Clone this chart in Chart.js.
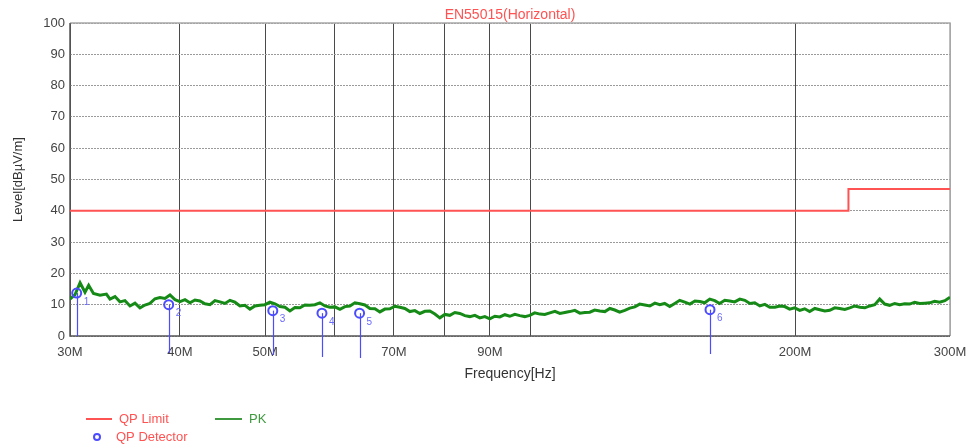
<!DOCTYPE html>
<html>
<head>
<meta charset="utf-8">
<script src="https://cdn.jsdelivr.net/npm/chart.js@4.4.1/dist/chart.umd.min.js"></script>
<style>
  html, body { margin: 0; padding: 0; background: #fff; }
  #wrap { width: 970px; height: 448px; }
</style>
</head>
<body>
<div id="wrap"><canvas id="emcChart" width="970" height="448"></canvas></div>
<script>
// chart text
const chartTitle = 'EN55015(Horizontal)';
const xTitle = 'Frequency[Hz]';
const yTitle = 'Level[dBµV/m]';

// x axis (MHz): where the vertical lines are, and which of them get a label
const xGridValues = [30, 40, 50, 60, 70, 80, 90, 100, 200, 300];
const xLabelValues = [30, 40, 50, 70, 90, 200, 300];

// QP limit line (stepped at 230 MHz)
const limitFreq = [30, 230, 230, 300];
const limitLevel = [40, 40, 47, 47];

// QP detector readings
const qpFreq = [30.53, 38.84, 51.0, 58.0, 64.0, 160.1];
const qpLevel = [13.7, 10.0, 8.1, 7.3, 7.3, 8.4];
const qpNames = ['1', '2', '3', '4', '5', '6'];

// PK sweep (MHz / dBuV/m)
const pkFreq = [30.00, 30.40, 30.80, 31.20, 31.50, 31.90, 32.45, 33.00, 33.31, 33.75,
  34.19, 34.64, 35.10, 35.56, 36.03, 36.50, 36.98, 37.47, 37.96, 38.46,
  38.97, 39.48, 40.00, 40.53, 41.06, 41.60, 42.15, 42.71, 43.27, 43.84,
  44.41, 45.00, 45.59, 46.19, 46.80, 47.42, 48.04, 48.67, 49.31, 49.96,
  50.62, 51.29, 51.96, 52.65, 53.34, 54.04, 54.75, 55.47, 56.20, 56.94,
  57.69, 58.45, 59.22, 60.00, 60.79, 61.59, 62.40, 63.22, 64.05, 64.90,
  65.75, 66.62, 67.49, 68.38, 69.28, 70.20, 71.12, 72.05, 73.00, 73.96,
  74.94, 75.93, 76.92, 77.94, 78.96, 80.00, 81.05, 82.12, 83.20, 84.30,
  85.41, 86.53, 87.67, 88.82, 89.99, 91.18, 92.38, 93.60, 94.83, 96.08,
  97.34, 98.62, 99.92, 101.2, 102.6, 103.9, 105.3, 106.7, 108.1, 109.5,
  110.9, 112.4, 113.9, 115.4, 116.9, 118.4, 120.0, 121.6, 123.2, 124.8,
  126.4, 128.1, 129.8, 131.5, 133.2, 135.0, 136.8, 138.6, 140.4, 142.2,
  144.1, 146.0, 147.9, 149.9, 151.9, 153.9, 155.9, 157.9, 160.0, 162.1,
  164.2, 166.4, 168.6, 170.8, 173.1, 175.4, 177.7, 180.0, 182.4, 184.8,
  187.2, 189.7, 192.2, 194.7, 197.2, 199.8, 202.5, 205.1, 207.8, 210.6,
  213.4, 216.2, 219.0, 221.9, 224.8, 227.8, 230.8, 233.9, 237.0, 240.1,
  243.2, 246.4, 249.6, 252.9, 256.2, 259.6, 263.0, 266.5, 270.0, 273.5,
  277.1, 280.8, 284.5, 288.2, 292.0, 296.0, 300.0];
const pkLevel = [11.8, 13.2, 17.0, 14.0, 16.2, 13.6, 13.0, 13.4, 11.8, 12.6,
  10.9, 11.3, 9.6, 10.5, 9.0, 9.9, 10.4, 11.9, 12.3, 12.0,
  13.1, 11.6, 11.0, 11.6, 10.6, 11.5, 11.2, 10.3, 10.0, 11.3,
  10.9, 10.4, 11.4, 10.8, 9.6, 9.8, 8.6, 9.6, 9.8, 10.0,
  10.8, 10.3, 9.4, 9.2, 8.0, 9.1, 9.0, 9.9, 9.8, 10.0,
  10.6, 9.6, 9.2, 9.3, 8.5, 9.4, 9.6, 10.6, 10.3, 9.9,
  8.8, 8.7, 7.7, 8.6, 8.7, 9.5, 9.2, 8.8, 7.8, 8.1,
  7.2, 7.9, 8.0, 7.0, 5.8, 6.9, 6.6, 7.5, 7.2, 6.5,
  6.2, 6.6, 5.8, 6.2, 5.5, 6.3, 6.1, 6.8, 6.3, 6.9,
  6.5, 6.2, 6.6, 7.4, 7.0, 6.9, 7.4, 7.9, 7.2, 7.5,
  7.8, 8.2, 7.3, 7.5, 7.6, 8.3, 8.0, 7.8, 8.8, 8.3,
  7.6, 8.2, 8.9, 9.3, 10.2, 9.9, 9.6, 10.5, 10.0, 10.4,
  9.4, 10.4, 11.4, 10.8, 10.2, 11.2, 11.0, 10.6, 11.8, 11.3,
  10.4, 11.4, 11.2, 10.9, 11.8, 11.4, 10.4, 10.6, 9.6, 10.1,
  9.2, 9.2, 9.6, 9.4, 8.6, 9.0, 8.2, 8.7, 7.8, 8.8,
  8.4, 8.0, 8.2, 9.0, 8.8, 8.5, 9.0, 9.6, 9.2, 9.0,
  9.6, 10.0, 11.8, 10.2, 9.8, 10.4, 10.0, 10.3, 10.2, 10.8,
  10.4, 10.5, 10.6, 11.1, 10.8, 11.3, 12.4];

const FONT = '"Liberation Sans", Arial, sans-serif';
const RED = '#ff5252';
const GREEN = '#168a16';
const BLUE = '#4b4bff';

// how far each marker stem runs below the axis (px)
const stemBelow = [0, 17, 19, 21, 22, 18];

function toPoints(xs, ys) {
    return xs.map((v, i) => ({x: v, y: ys[i]}));
}

// frame, marker stems, marker numbers, title and the little legend at the bottom
const decorations = {
    id: 'decorations',
    beforeDatasetsDraw(chart) {
        const {ctx, chartArea: a, scales: {x, y}} = chart;
        ctx.save();
        ctx.lineWidth = 1.5;
        ctx.strokeStyle = '#a8a8a8';
        ctx.beginPath();
        ctx.moveTo(a.left, a.top); ctx.lineTo(a.right, a.top); ctx.lineTo(a.right, a.bottom);
        ctx.stroke();
        ctx.strokeStyle = '#555';
        ctx.beginPath();
        ctx.moveTo(a.left, a.top); ctx.lineTo(a.left, a.bottom); ctx.lineTo(a.right, a.bottom);
        ctx.stroke();

        ctx.strokeStyle = BLUE;
        ctx.lineWidth = 1.2;
        qpFreq.forEach((f, i) => {
            const px = Math.round(x.getPixelForValue(f)) + 0.5;
            ctx.beginPath();
            ctx.moveTo(px, y.getPixelForValue(qpLevel[i]));
            ctx.lineTo(px, a.bottom + stemBelow[i]);
            ctx.stroke();
        });
        ctx.restore();
    },
    afterDraw(chart) {
        const {ctx, chartArea: a, scales: {x, y}} = chart;
        ctx.save();
        // title
        ctx.font = '14px ' + FONT;
        ctx.fillStyle = RED;
        ctx.textAlign = 'center';
        ctx.textBaseline = 'middle';
        ctx.fillText(chartTitle, (a.left + a.right) / 2, 15.5);

        // marker numbers
        ctx.font = '10px ' + FONT;
        ctx.fillStyle = '#6a6aff';
        ctx.textAlign = 'left';
        qpFreq.forEach((f, i) => {
            ctx.fillText(qpNames[i], x.getPixelForValue(f) + 7, y.getPixelForValue(qpLevel[i]) + 9);
        });

        // legend
        ctx.font = '13px ' + FONT;
        ctx.lineWidth = 2;
        ctx.strokeStyle = RED;
        ctx.beginPath(); ctx.moveTo(86, 419); ctx.lineTo(112, 419); ctx.stroke();
        ctx.fillStyle = RED;
        ctx.fillText('QP Limit', 119, 419);

        ctx.strokeStyle = '#3f9a3f';
        ctx.beginPath(); ctx.moveTo(215, 419); ctx.lineTo(242, 419); ctx.stroke();
        ctx.fillStyle = '#3f9a3f';
        ctx.fillText('PK', 249, 419);

        ctx.strokeStyle = BLUE;
        ctx.beginPath(); ctx.arc(97, 437, 3, 0, Math.PI * 2); ctx.stroke();
        ctx.fillStyle = RED;
        ctx.fillText('QP Detector', 116, 437);
        ctx.restore();
    }
};

let plot = document.getElementById('emcChart').getContext('2d');

new Chart(plot, {
    type: 'line',
    data: {
        datasets: [
            {
                label: 'QP Detector',
                data: toPoints(qpFreq, qpLevel),
                showLine: false,
                pointStyle: 'circle',
                pointRadius: 4.5,
                pointBorderWidth: 2,
                pointBorderColor: BLUE,
                pointBackgroundColor: 'rgba(0,0,0,0)'
            },
            {
                label: 'QP Limit',
                data: toPoints(limitFreq, limitLevel),
                borderColor: RED,
                borderWidth: 2,
                pointRadius: 0,
                tension: 0
            },
            {
                label: 'PK',
                data: toPoints(pkFreq, pkLevel),
                borderColor: GREEN,
                borderWidth: 3,
                pointRadius: 0,
                tension: 0
            }
        ]
    },
    options: {
        responsive: false,
        animation: false,
        layout: {padding: {left: 0, right: 20, top: 23, bottom: 61}},
        plugins: {
            legend: {display: false},
            title: {display: false},
            tooltip: {enabled: false}
        },
        scales: {
            x: {
                type: 'logarithmic',
                min: 30,
                max: 300,
                afterBuildTicks: scale => {
                    scale.ticks = xGridValues.map(v => ({value: v}));
                },
                afterFit: scale => {
                    scale.height = 51;
                    scale.paddingLeft = 0;
                    scale.paddingRight = 0;
                },
                grid: {
                    drawTicks: false,
                    color: c => (c.tick && c.tick.value === 300) ? '#a8a8a8' : '#4a4a4a',
                    lineWidth: 1
                },
                border: {display: false},
                ticks: {
                    autoSkip: false,
                    maxRotation: 0,
                    padding: 9,
                    color: '#444',
                    font: {family: FONT, size: 13},
                    callback: v => xLabelValues.includes(v) ? v + 'M' : ''
                },
                title: {
                    display: true,
                    text: xTitle,
                    color: '#333',
                    font: {family: FONT, size: 14},
                    padding: {top: 0, bottom: 4}
                }
            },
            y: {
                min: 0,
                max: 100,
                afterFit: scale => { scale.width = 70; },
                grid: {
                    drawTicks: false,
                    color: '#9a9a9a',
                    lineWidth: 1
                },
                border: {display: false, dash: [2, 1]},
                ticks: {
                    stepSize: 10,
                    padding: 5,
                    color: '#444',
                    font: {family: FONT, size: 13}
                },
                title: {
                    display: true,
                    text: yTitle,
                    color: '#333',
                    font: {family: FONT, size: 13},
                    padding: {top: 11, bottom: 0}
                }
            }
        }
    },
    plugins: [decorations]
});
</script>
</body>
</html>
